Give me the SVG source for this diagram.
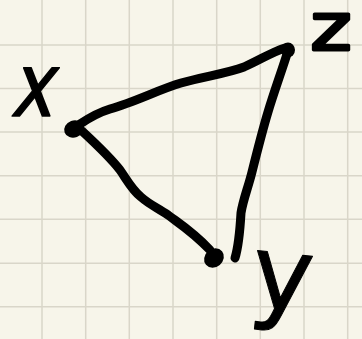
<svg xmlns="http://www.w3.org/2000/svg" width="362" height="339" viewBox="0 0 362 339">
<defs>
<style>
.grid line{stroke:#d9d6c9;stroke-width:1.5}
.edge{fill:none;stroke:#000;stroke-width:9;stroke-linecap:round;stroke-linejoin:round}
.dot{fill:#000}
.lbl{font-family:"DejaVu Sans",sans-serif;fill:#000;stroke:#000;stroke-linejoin:round;text-anchor:middle}
</style>
</defs>
<rect width="362" height="339" fill="#f7f5ea"/>
<g class="grid">
<line x1="42" y1="0" x2="42" y2="339"/>
<line x1="85.7" y1="0" x2="85.7" y2="339"/>
<line x1="129.3" y1="0" x2="129.3" y2="339"/>
<line x1="173" y1="0" x2="173" y2="339"/>
<line x1="216.7" y1="0" x2="216.7" y2="339"/>
<line x1="260.3" y1="0" x2="260.3" y2="339"/>
<line x1="304" y1="0" x2="304" y2="339"/>
<line x1="347.7" y1="0" x2="347.7" y2="339"/>
<line x1="0" y1="45" x2="362" y2="45"/>
<line x1="0" y1="88.5" x2="362" y2="88.5"/>
<line x1="0" y1="132" x2="362" y2="132"/>
<line x1="0" y1="175.7" x2="362" y2="175.7"/>
<line x1="0" y1="219.3" x2="362" y2="219.3"/>
<line x1="0" y1="263.3" x2="362" y2="263.3"/>
<line x1="0" y1="306.7" x2="362" y2="306.7"/>
</g>
<g id="edges">
<path class="edge" d="M80 124 C92 116 100 112 110 109 C135 102 160 89 181 83 C205 76 225 74 244 67 C260 60 272 52 285 48"/>
<path class="edge" d="M82 131 C96 144 110 157 120 170 C127 180 132 190 141 197 C150 205 158 208 168 215 C180 224 193 232 210 250"/>
<path class="edge" d="M287 54 C282 70 274 92 268 112 C262 132 257 152 252 172 C248 188 243 200 241 213 C240 230 239 245 235 258"/>
</g>
<g id="node-x">
<ellipse class="dot" cx="74" cy="129" rx="10" ry="8.5" transform="rotate(-20 74 129)"/>
<text class="lbl" font-size="84" stroke-width="1.5" transform="translate(31 116) skewX(-12) scale(0.85 1.05)">x</text>
</g>
<g id="node-z">
<ellipse class="dot" cx="288" cy="50" rx="7" ry="7.5"/>
<text class="lbl" font-size="66" stroke-width="3" transform="translate(331 50) scale(1.2 1)">z</text>
</g>
<g id="node-y">
<ellipse class="dot" cx="214" cy="258" rx="10.5" ry="9" transform="rotate(-40 214 258)"/>
<text class="lbl" font-size="104" transform="translate(279 310) rotate(6)">y</text>
</g>
</svg>
